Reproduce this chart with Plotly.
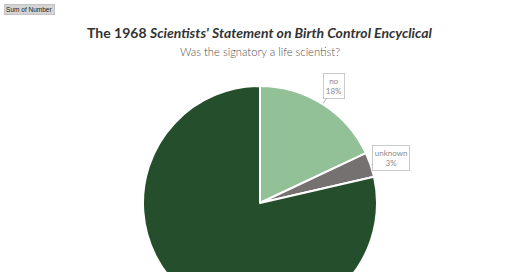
import math
import plotly.graph_objects as go

# Data
categories = ["no", "unknown", "yes"]
shares = [18.0, 3.4, 78.6]
slice_colors = ["#93c197", "#767171", "#254f2c"]

title_text = "<b>The 1968 <i>Scientists' Statement on Birth Control Encyclical</i></b>"
subtitle_text = "Was the signatory a life scientist?"

W, H = 520, 406
VIEW_H = 272
CX, CY, R = 260, 203, 117  # pie geometry in pixels (figure taller than window -> cropped)

fig = go.Figure()
fig.add_trace(go.Pie(
    labels=categories,
    values=shares,
    sort=False,
    direction="clockwise",
    rotation=0,
    marker=dict(colors=slice_colors, line=dict(color="white", width=2)),
    textinfo="none",
    hoverinfo="label+percent",
    showlegend=False,
    domain=dict(x=[(CX - R) / W, (CX + R) / W], y=[1 - (CY + R) / H, 1 - (CY - R) / H]),
))

# callout labels placed at each slice's mid-angle (only those inside the visible window)
total = sum(shares)
cum = 0.0
annotations = []
for cat, v in zip(categories, shares):
    mid = (cum + v / 2) / total * 2 * math.pi
    cum += v
    tip_r, box_r = R + 1, R + 22
    tx, ty = CX + tip_r * math.sin(mid), CY - tip_r * math.cos(mid)
    bx, by = CX + box_r * math.sin(mid), CY - box_r * math.cos(mid)
    if by > VIEW_H - 20:
        continue
    pct = round(v / total * 100)
    annotations.append(dict(
        x=tx / W, y=1 - ty / H, xref="paper", yref="paper",
        ax=bx - tx, ay=by - ty, axref="pixel", ayref="pixel",
        text=f"{cat}<br>{pct}%", showarrow=True, arrowhead=0, arrowwidth=0.8,
        arrowcolor="#a6a6a6", standoff=0,
        font=dict(family="Lato, Open Sans, sans-serif", size=8, color="#8a8a8a"),
        bgcolor="white", bordercolor="#bfbfbf", borderwidth=0.8, borderpad=2,
    ))

annotations.append(dict(
    x=0.5, y=1 - 32 / H, xref="paper", yref="paper", showarrow=False,
    text=title_text, xanchor="center", yanchor="middle",
    font=dict(family="Lato, sans-serif", size=14, color="#333333"),
))
annotations.append(dict(
    x=0.5, y=1 - 51 / H, xref="paper", yref="paper", showarrow=False,
    text=subtitle_text, xanchor="center", yanchor="middle",
    font=dict(family="Lato, sans-serif", size=11.2, color="#4f4f4f", weight=300),
))
annotations.append(dict(
    x=4 / W, y=1 - 10 / H, xref="paper", yref="paper", showarrow=False,
    text="Sum of Number", xanchor="left", yanchor="middle",
    font=dict(family="Liberation Sans, Arial, sans-serif", size=6.5, color="#222222"),
    bgcolor="#d4d4d4", bordercolor="#b0b0b0", borderwidth=0.6, borderpad=1.5,
))

fig.update_layout(
    width=W, height=H,
    margin=dict(l=0, r=0, t=0, b=0),
    paper_bgcolor="white", plot_bgcolor="white",
    annotations=annotations,
)

fig.write_html("out.html")
